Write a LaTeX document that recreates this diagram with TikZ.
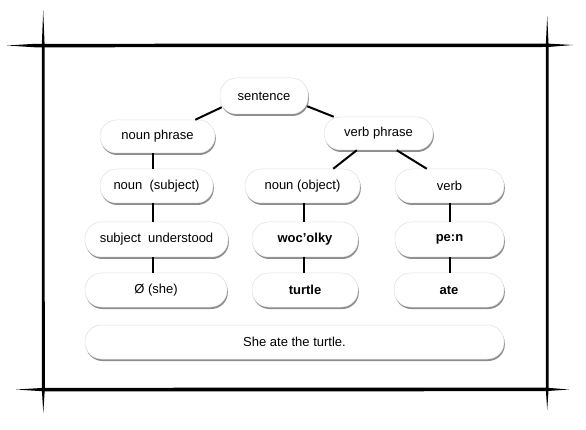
\documentclass[tikz,border=0pt]{standalone}
\usepackage{fontspec}
\setmainfont{Liberation Sans}
\usetikzlibrary{calc,shadows}
\tikzset{
  box/.style={draw=black!12, line width=0.5pt, fill=white, rounded corners=16.5pt,
    inner sep=0pt, align=center, font=\fontsize{13}{15}\selectfont,
    drop shadow={shadow xshift=0.8pt, shadow yshift=-2pt, fill=black, opacity=0.45}},
  bbox/.style={box, font=\fontsize{13}{15}\selectfont\bfseries},
  link/.style={line width=2pt, draw=black},
  rough/.style={fill=black}
}
\begin{document}
\begin{tikzpicture}[x=1pt,y=-1pt]
\fill[white] (0,0) rectangle (586,430);
\useasboundingbox (0,0) rectangle (586,430);
% frame
\fill[rough] (7,45.5) -- (35,43.8) -- (548,43.6) -- (573,45) -- (548,47) -- (35,47.3) -- cycle;
\fill[rough] (16,389.5) -- (45,387.8) -- (545,387.6) -- (569,389.5) -- (545,391.2) -- (45,391.4) -- cycle;
\fill[rough] (43.2,10) -- (44.6,45) -- (44.8,389) -- (43.3,413) -- (41.8,389) -- (41.8,45) -- cycle;
\fill[rough] (547.2,16) -- (548.6,45) -- (548.6,389) -- (547.2,410) -- (545.8,389) -- (545.8,45) -- cycle;
% nodes
\node[box, minimum width=88pt, minimum height=36pt] (sentence) at (264,96) {sentence};
\node[box, minimum width=115pt, minimum height=33pt] (np) at (157.5,136.5) {noun phrase};
\node[box, minimum width=109pt, minimum height=33pt] (vp) at (378.5,133.5) {verb phrase};
\node[box, minimum width=113pt, minimum height=34pt] (ns) at (156.5,186) {noun\ \ (subject)};
\node[box, minimum width=115pt, minimum height=34pt] (no) at (302.5,186) {noun (object)};
\node[box, minimum width=109pt, minimum height=34pt] (verb) at (449.5,186) {verb};
\node[box, minimum width=143pt, minimum height=35pt] (su) at (156.5,239.5) {subject\ \ understood};
\node[bbox, minimum width=106pt, minimum height=35pt] (woc) at (305,239.5) {woc’olky};
\node[bbox, minimum width=109pt, minimum height=35pt] (pen) at (449.5,239.5) {pe:n};
\node[box, minimum width=142pt, minimum height=34pt] (she) at (156,290) {Ø (she)};
\node[bbox, minimum width=106pt, minimum height=34pt] (turtle) at (305,290) {turtle};
\node[bbox, minimum width=110pt, minimum height=34pt] (ate) at (449,290) {ate};
\node[box, minimum width=419pt, minimum height=34pt] (full) at (294.5,342) {She ate the turtle.};
% column guides
\coordinate (lx) at (153,0);
\coordinate (mx) at (304,0);
\coordinate (rx) at (450,0);
% connectors
\draw[link] ($(sentence.south west)+(2,-7)$) -- ($(np.north east)+(-20,0)$);
\draw[link] ($(sentence.south east)+(-1,-8)$) -- ($(vp.north west)+(10,0)$);
\draw[link] ($(vp.south west)+(33,0)$) -- ($(no.north east)+(-27,0)$);
\draw[link] ($(vp.south west)+(73,0)$) -- ($(verb.north west)+(32,0)$);
\draw[link] (np.south -| lx) -- (ns.north -| lx);
\draw[link] (ns.south -| lx) -- (su.north -| lx);
\draw[link] (su.south -| lx) -- (she.north -| lx);
\draw[link] (no.south -| mx) -- (woc.north -| mx);
\draw[link] (woc.south -| mx) -- (turtle.north -| mx);
\draw[link] (verb.south -| rx) -- (pen.north -| rx);
\draw[link] (pen.south -| rx) -- (ate.north -| rx);
\end{tikzpicture}
\end{document}
